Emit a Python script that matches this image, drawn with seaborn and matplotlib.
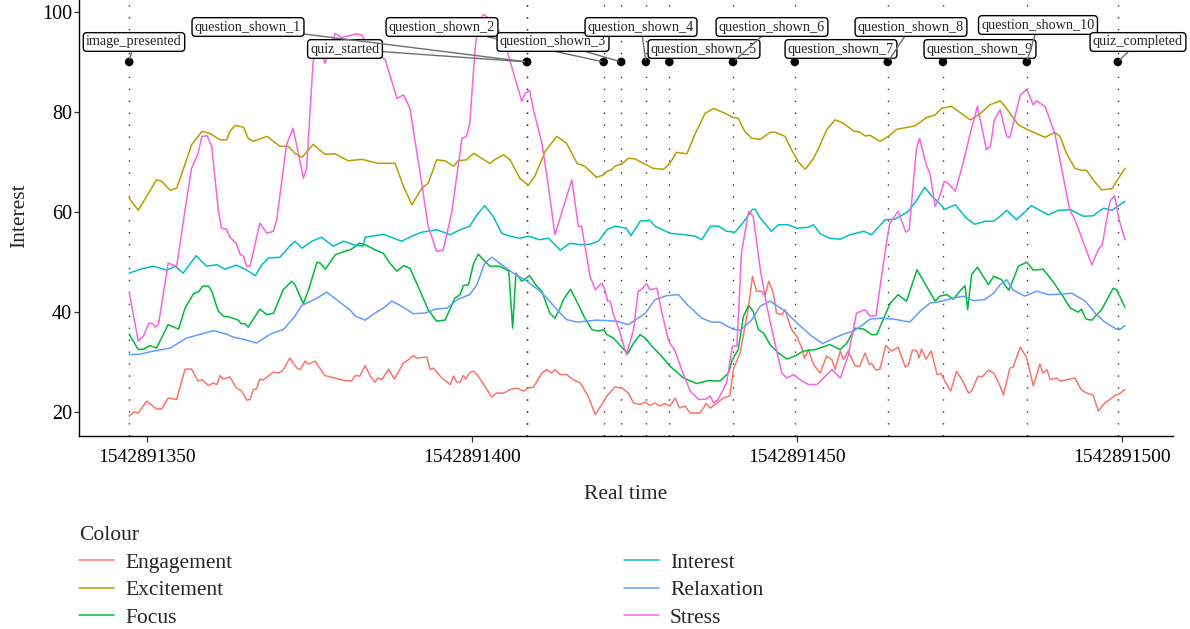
import numpy as np
import pandas as pd
import matplotlib
matplotlib.use("Agg")
import matplotlib.pyplot as plt
import seaborn as sns

BASE = 1542891000

# ---------------- data (time offsets from BASE, values) ----------------
eng_t = [347.3,348.0,348.7,350.0,351.5,352.3,353.3,354.6,355.9,356.9,357.9,358.5,359.5,360.2,360.8,361.3,361.8,362.8,363.8,364.6,365.4,365.9,366.4,366.9,367.4,367.9,369.5,370.3,371.0,372.0,373.1,
         373.6,374.4,374.9,375.9,377.4,380.5,381.5,382.1,382.8,383.6,384.4,385.1,385.6,386.2,387.2,388.1,389.5,390.3,391.0,391.5,393.1,393.6,394.1,395.4,396.7,397.2,397.7,398.2,398.7,399.1,399.7,
         400.3,401.0,402.0,403.1,403.8,404.9,405.9,406.9,408.0,408.7,409.5,410.8,411.5,412.3,412.8,413.6,414.6,415.6,416.7,417.9,419.0,420.0,420.8,422.0,423.1,424.1,424.9,425.9,
         426.7,427.4,428.2,429.0,429.7,430.5,431.3,432.0,432.8,433.6,435.1,436.1,436.7,437.7,438.7,439.7,440.3,441.3,442.6,443.2,443.8,444.6,445.1,445.7,446.4,446.9,447.7,448.2,449.2,450.0,450.8,451.2,451.8,452.6,453.6,
         454.6,455.4,455.9,456.7,457.2,457.9,459.0,459.7,460.5,461.2,461.5,462.2,462.8,463.7,464.6,465.6,466.7,467.2,467.8,468.5,468.8,469.2,469.9,470.7,471.6,472.2,472.8,473.7,474.6,475.4,475.7,476.4,476.9,477.9,478.5,479.5,480.3,
         481.3,481.8,482.8,483.3,484.4,485.4,486.4,487.4,487.9,488.5,489.0,490.0,490.5,492.8,493.8,494.6,495.6,496.4,497.4,498.5,499.0,499.6,500.5]
eng_v = [19.1,19.9,19.7,22.1,20.5,20.5,22.7,22.4,28.5,28.5,26.1,26.4,25.2,25.7,25.4,27.2,26.5,26.9,24.7,24.1,22.3,22.4,24.4,24.5,26.5,26.3,27.9,27.7,28.3,30.7,28.7,
         28.4,30.1,29.5,30.1,27.2,26.2,26.1,27.2,27.1,29.2,27.1,25.9,26.7,26.4,28.5,26.5,29.7,30.4,31.2,30.7,30.9,28.4,28.7,26.7,25.4,27.1,25.9,25.9,27.2,26.5,27.8,
         28.1,27.1,25.1,22.9,23.7,23.7,24.4,24.7,24.1,24.7,24.9,27.7,28.4,27.7,28.4,27.4,27.4,26.4,25.7,23.1,19.4,21.4,23.1,24.9,24.7,23.7,21.7,21.4,
         21.9,21.2,21.7,21.1,21.6,21.1,22.7,20.7,21.1,19.7,19.7,21.6,20.7,21.7,22.7,23.1,28.7,31.7,41.1,47.1,44.1,44.1,43.1,46.1,43.7,39.7,39.4,40.4,36.4,35.1,32.7,30.7,32.4,29.4,27.7,
         31.1,30.4,28.4,32.1,30.4,32.1,29.1,29.1,31.7,29.4,29.7,28.3,28.5,33.2,32.1,32.9,28.9,29.4,32.3,32.1,30.7,32.5,30.5,32.1,27.4,27.6,26.1,24.1,28.1,26.4,25.7,23.7,24.1,27.1,26.9,28.3,27.7,
         25.1,23.3,28.7,28.9,32.9,30.7,25.1,29.5,27.7,28.4,26.4,26.7,26.1,26.7,24.3,23.7,23.3,20.1,21.7,22.7,23.3,23.5,24.4]

exc_t = [347.3,348.7,350.0,351.5,352.3,353.6,354.6,355.6,356.9,358.5,359.7,361.3,362.3,362.8,363.6,364.9,365.6,366.4,368.5,370.5,371.8,372.8,373.9,375.6,377.4,379.0,381.0,383.1,385.6,388.2,389.5,390.8,392.3,393.3,394.6,395.9,397.2,397.9,399.2,
         400.3,401.5,402.8,403.6,404.9,405.9,407.4,408.7,409.7,411.3,413.1,414.6,416.2,417.4,419.2,420.3,420.8,421.5,422.0,423.1,424.1,425.1,426.4,427.9,429.5,430.5,431.5,433.1,434.4,435.9,437.2,439.0,440.2,441.0,442.0,443.1,444.4,445.9,446.7,448.2,449.2,450.3,451.3,452.6,
         453.6,454.6,455.9,457.2,458.7,459.7,460.5,461.3,462.8,464.1,465.4,468.2,470.0,471.3,472.3,473.8,475.1,476.7,478.2,479.7,481.3,482.0,482.8,484.1,485.6,488.2,489.7,490.5,491.5,492.8,493.8,494.6,495.6,496.9,498.5,499.5,500.5]
exc_v = [62.7,60.3,63.1,66.4,66.1,64.3,64.7,68.4,73.4,76.1,75.7,74.4,74.4,76.1,77.3,76.9,74.7,74.1,75.1,73.1,73.1,71.7,70.9,73.5,71.5,71.6,70.2,70.5,69.7,69.7,65.1,61.4,64.7,65.7,70.4,70.2,69.1,70.2,70.4,
         71.7,70.7,69.7,70.5,71.4,70.4,66.7,65.3,67.1,72.1,75.1,73.7,69.7,69.1,66.9,67.4,68.1,68.4,69.1,69.6,70.7,70.6,69.7,68.7,68.5,69.7,71.9,71.6,75.7,79.7,80.7,79.7,78.9,78.7,76.1,74.7,74.5,75.9,75.9,75.1,72.4,69.9,68.5,70.7,
         73.4,76.4,78.4,77.7,76.2,75.9,75.2,75.3,74.1,75.1,76.5,77.2,78.9,79.4,80.7,81.1,79.9,78.4,79.6,81.4,82.2,81.2,79.7,77.4,76.4,74.9,75.9,75.1,71.7,68.7,68.3,68.3,66.4,64.4,64.6,66.7,68.7]

foc_t = [347.3,348.7,349.5,350.5,351.5,353.3,354.9,355.9,357.2,358.0,358.6,359.5,360.0,361.0,361.8,362.8,364.1,364.5,365.1,365.6,367.4,368.5,369.5,371.0,372.3,372.8,374.1,374.9,376.2,376.7,377.5,379.0,380.5,381.5,382.7,383.6,385.1,386.4,387.4,388.5,389.5,390.5,392.3,393.3,394.6,395.9,397.4,398.2,398.7,399.5,
         400.3,401.0,401.8,402.8,404.3,405.7,406.3,406.8,407.7,408.9,410.0,410.8,412.0,412.8,413.6,414.1,415.2,416.4,417.4,418.5,419.5,420.3,420.8,421.8,424.0,424.9,425.9,426.7,427.7,429.0,430.5,432.6,434.6,436.4,438.2,439.5,440.1,441.0,441.8,442.6,443.3,444.1,444.9,445.9,447.2,448.5,449.7,451.0,452.8,
         455.1,456.7,457.7,459.0,460.3,461.5,462.3,463.3,464.4,465.6,466.9,468.5,469.7,471.3,472.0,473.1,474.1,475.1,475.9,476.3,476.9,477.8,479.5,480.3,481.5,482.6,483.3,484.1,485.4,486.4,487.9,489.5,490.8,492.1,493.3,493.8,494.5,495.4,496.9,498.7,499.2,500.5]
foc_v = [35.5,32.4,32.5,33.2,32.7,37.4,36.5,40.7,43.6,44.0,45.1,45.1,44.1,40.1,39.1,38.9,38.3,37.6,37.6,36.9,40.5,39.4,39.7,44.4,46.1,45.4,41.6,44.4,49.9,49.7,48.5,51.4,52.1,52.5,53.7,53.4,52.4,51.7,49.7,48.1,49.2,48.7,43.4,40.4,38.1,38.3,42.7,43.4,45.2,45.4,
         49.7,51.5,50.4,49.1,49.1,48.1,36.7,47.7,46.1,47.2,45.1,44.1,39.7,38.7,40.7,42.4,44.5,41.4,38.7,36.4,36.1,36.4,35.4,34.7,31.6,33.7,35.4,34.7,33.1,31.4,29.1,26.7,25.6,26.2,26.1,27.7,30.4,32.4,39.1,41.2,40.1,36.4,35.7,33.4,31.7,30.5,31.1,32.1,32.4,
         33.4,32.4,33.7,36.7,36.5,35.4,35.4,38.4,41.7,43.4,42.1,48.4,45.7,42.1,43.1,43.4,42.5,44.1,45.2,40.4,47.4,48.9,45.4,47.1,46.4,44.3,46.4,49.1,49.9,48.3,48.5,45.9,43.4,40.7,39.9,40.5,38.5,38.3,40.4,44.7,44.4,40.9]

int_t = [347.3,349.0,351.0,353.1,354.4,355.6,357.6,359.2,360.8,362.0,363.8,365.4,366.7,367.7,368.7,370.5,372.0,372.8,373.9,375.4,376.9,378.7,380.3,381.8,383.3,383.6,384.6,386.4,388.0,389.2,390.8,392.3,394.6,396.7,398.2,399.7,
         400.8,402.0,403.3,404.6,405.9,407.4,408.7,410.5,411.8,413.6,415.1,416.7,418.2,419.5,420.8,422.0,423.8,424.5,425.9,427.4,428.2,430.5,432.8,434.4,435.4,436.7,438.0,439.2,440.5,441.8,443.2,443.6,444.4,446.1,447.2,448.7,450.0,451.8,452.6,453.6,
         455.1,456.7,458.2,460.3,461.5,463.6,465.1,467.2,468.5,469.7,470.8,471.8,472.8,474.4,476.1,477.4,479.0,480.3,481.3,482.3,483.8,486.1,488.7,490.3,492.1,494.1,495.6,497.2,498.5,500.5]
int_v = [47.7,48.5,49.1,48.3,49.1,47.7,51.2,49.1,49.4,48.5,49.3,48.3,47.2,49.4,50.7,50.9,53.1,54.1,52.7,54.1,54.9,53.1,54.1,53.4,53.1,54.9,55.1,55.5,54.7,54.1,55.1,55.9,56.4,55.4,56.4,57.1,
         59.4,61.2,59.1,55.7,55.1,54.7,55.1,54.4,54.7,52.3,53.7,53.4,53.5,54.1,56.4,57.1,56.7,55.2,58.1,58.3,57.1,55.7,55.4,55.1,54.4,57.1,57.1,56.1,55.9,57.9,60.5,60.5,58.7,56.1,57.4,57.4,56.7,56.9,57.4,55.6,
         54.7,54.5,55.4,56.1,55.4,58.4,58.5,60.1,62.4,64.9,63.1,61.9,60.5,61.4,58.7,57.5,58.1,58.1,59.1,60.3,58.4,61.2,59.4,60.3,60.4,59.1,59.2,60.7,60.3,62.1]

rel_t = [347.3,349.0,351.0,353.6,356.1,360.3,362.3,363.3,365.1,366.9,369.0,371.0,372.8,373.8,375.9,377.7,379.5,381.3,382.1,383.6,385.1,386.4,387.7,389.2,391.0,392.8,394.4,396.2,397.9,399.7,
         400.8,402.0,403.1,404.3,406.4,408.5,410.5,411.8,413.1,414.6,416.2,419.2,422.3,424.1,425.6,426.7,428.2,430.0,431.8,433.3,435.4,436.9,438.2,440.2,441.3,443.1,444.4,445.9,448.2,450.3,452.3,454.0,
         455.4,457.2,458.7,460.0,461.3,463.1,465.4,467.4,469.0,470.5,472.3,474.1,475.6,477.2,478.9,480.3,481.3,482.3,483.3,485.1,486.9,488.7,490.8,492.3,494.4,495.9,497.4,499.2,499.7,500.5]
rel_v = [31.4,31.5,32.1,32.7,34.7,36.2,35.5,34.9,34.4,33.7,35.5,36.4,39.1,41.2,42.5,43.9,42.1,40.3,39.1,38.3,39.7,40.7,42.1,41.1,39.6,39.7,40.5,40.7,42.5,43.4,
         45.4,49.7,50.9,49.7,47.7,46.1,44.1,42.4,40.4,38.4,37.9,38.3,38.1,37.4,38.7,39.7,42.4,43.2,43.4,41.2,38.7,37.9,37.9,36.5,36.2,38.4,41.1,42.1,40.1,37.4,35.1,33.6,
         34.5,35.5,36.1,37.2,38.5,38.7,38.4,37.9,40.1,41.7,42.1,42.7,43.1,42.2,42.4,43.7,45.4,46.4,44.3,43.1,44.1,43.4,43.5,43.7,42.1,39.7,37.9,36.5,36.4,37.2]

str_t = [347.3,348.7,349.5,350.3,350.8,351.3,351.8,353.3,354.6,355.9,356.9,357.9,358.5,359.3,360.0,361.0,361.5,362.3,362.8,363.8,364.4,364.9,365.4,365.9,367.4,368.5,369.5,370.0,371.5,372.5,373.1,374.1,374.6,375.6,376.4,376.9,377.4,377.9,379.0,380.0,381.0,382.1,383.1,383.8,386.7,388.5,389.5,390.5,392.3,393.3,394.6,395.6,396.9,397.7,398.5,399.2,399.7,
         400.5,401.0,401.8,403.0,404.3,405.4,407.7,408.2,408.9,409.5,410.8,411.8,412.8,415.4,416.4,416.9,418.2,419.0,420.0,420.5,420.9,421.3,421.8,422.6,423.8,424.9,425.6,426.1,426.9,427.4,428.5,429.2,430.3,431.3,432.3,433.6,434.9,436.1,436.7,437.2,437.9,439.2,440.1,440.8,441.5,442.6,443.3,444.4,445.4,446.4,447.7,448.5,449.5,450.5,451.8,453.1,
         455.4,456.7,457.9,459.2,460.5,461.3,462.2,463.3,464.3,465.6,466.8,467.3,468.4,468.9,470.0,470.5,471.3,472.0,472.7,473.3,474.4,475.6,476.7,477.8,479.2,479.8,480.4,481.3,482.3,482.8,484.4,485.4,486.4,486.9,488.2,489.7,490.8,492.0,492.8,495.4,496.4,497.0,498.2,498.9,499.6,500.5]
str_v = [43.9,34.1,35.1,37.6,37.7,36.9,37.4,49.7,49.1,60.4,68.7,71.7,75.1,75.2,73.1,60.4,56.7,56.5,54.9,53.6,51.4,51.1,49.1,49.1,57.7,55.7,56.1,58.4,73.4,76.7,73.1,66.7,68.7,90.1,93.1,92.4,89.7,91.4,95.7,94.9,95.2,95.6,95.4,93.7,90.4,82.7,83.4,80.7,65.7,57.1,52.1,52.3,59.7,67.1,74.7,75.1,77.7,
         92.4,97.5,99.5,98.5,96.0,92.4,82.1,83.7,84.3,80.4,73.7,65.1,55.4,66.4,57.1,57.1,47.1,44.4,45.7,44.4,42.1,42.1,39.4,36.7,31.4,36.4,44.1,44.4,45.6,44.4,44.7,40.1,34.1,32.1,28.4,24.1,22.4,22.5,23.1,21.7,22.4,25.7,33.1,33.1,51.7,60.1,59.1,48.4,41.1,35.1,27.7,26.7,27.4,26.4,25.4,25.4,
         28.4,26.7,31.1,39.7,40.4,39.1,39.2,49.4,57.7,60.1,55.9,56.4,72.4,74.7,69.1,67.7,61.1,63.1,66.1,65.7,64.1,69.7,75.7,81.1,72.4,73.1,78.4,80.4,75.1,74.9,83.4,84.5,81.4,82.2,81.1,75.7,68.4,60.4,58.4,49.4,52.4,53.4,62.1,63.2,58.4,54.4]

series_names = ["Engagement", "Excitement", "Focus", "Interest", "Relaxation", "Stress"]
series_t = [eng_t, exc_t, foc_t, int_t, rel_t, str_t]
series_v = [eng_v, exc_v, foc_v, int_v, rel_v, str_v]

event_labels = ["image_presented", "quiz_started", "question_shown_1", "question_shown_2",
                "question_shown_3", "question_shown_4", "question_shown_5", "question_shown_6",
                "question_shown_7", "question_shown_8", "question_shown_9", "question_shown_10",
                "quiz_completed"]
event_t = [347.3, 408.5, 408.5, 420.3, 423.0, 426.8, 430.4, 440.2, 449.7, 464.0, 472.5, 485.4, 499.4]
event_v = [90] * len(event_t)

x_ticks = [1542891350, 1542891400, 1542891450, 1542891500]

# label box placement (layout, pixel positions of box centres in the figure)
label_px = [(134, 42), (345, 49), (248, 27), (442, 27), (553, 42), (641, 27), (704, 49),
            (772, 27), (841, 49), (911, 27), (980, 49), (1038, 25), (1138, 42)]
label_segment = [True, True, True, True, True, True, False, True, False, True, False, True, True]

# ---------------- build data frame ----------------
rows = []
for name, ts, vs in zip(series_names, series_t, series_v):
    for t, v in zip(ts, vs):
        rows.append((BASE + t, v, name))
df = pd.DataFrame(rows, columns=["time", "value", "Colour"])
ev = pd.DataFrame({"time": [BASE + t for t in event_t], "value": event_v, "label": event_labels})

palette = dict(zip(series_names, ["#F8766D", "#B79F00", "#00BA38", "#00BFC4", "#619CFF", "#F564E3"]))

sns.set_style("ticks")
plt.rcParams["font.family"] = ["Liberation Serif", "DejaVu Serif"]

W, H = 1190, 629
fig = plt.figure(figsize=(W / 100, H / 100), dpi=100)
ax_l, ax_r, ax_b, ax_t = 79, 1173, 436, -5.5
ax = fig.add_axes([ax_l / W, (H - ax_b) / H, (ax_r - ax_l) / W, (ax_b - ax_t) / H])

xlim = (1542891339.58, 1542891507.89)
ylim = (15.1, 103.5)
ax.set_xlim(*xlim)
ax.set_ylim(*ylim)

for t in ev["time"]:
    ax.axvline(t, color="#333333", lw=1.0, linestyle=(0, (1, 7.6)), zorder=1)

sns.lineplot(data=df, x="time", y="value", hue="Colour", hue_order=series_names,
             palette=palette, estimator=None, lw=1.1, ax=ax, zorder=2)

sns.scatterplot(data=ev, x="time", y="value", color="black", s=38, edgecolor="none",
                ax=ax, zorder=4, legend=False)

def px_to_data(px, py):
    x = xlim[0] + (px - ax_l) / (ax_r - ax_l) * (xlim[1] - xlim[0])
    y = ylim[0] + (ax_b - py) / (ax_b - ax_t) * (ylim[1] - ylim[0])
    return x, y

for (lab, t, v, (px, py), seg) in zip(ev["label"], ev["time"], ev["value"], label_px, label_segment):
    xt, yt = px_to_data(px, py)
    ap = dict(arrowstyle="-", color="#6e6e6e", lw=1.0, shrinkA=0, shrinkB=2) if seg else None
    ax.annotate(lab, xy=(t, v), xytext=(xt, yt), textcoords="data", ha="center", va="center",
                fontsize=10.2, zorder=6,
                bbox=dict(boxstyle="round,pad=0.2,rounding_size=0.25", fc="white", ec="black", lw=1.0),
                arrowprops=ap)

ax.set_xticks(x_ticks)
ax.set_xticklabels([str(x) for x in x_ticks])
ax.set_yticks([20, 40, 60, 80, 100])
ax.tick_params(axis="x", labelsize=14, length=4, width=0.9, color="#333333", pad=5, labelcolor="black")
ax.tick_params(axis="y", labelsize=14.5, length=3.5, width=0.9, color="#333333", pad=1.5, labelcolor="black")
for side in ["top", "right"]:
    ax.spines[side].set_visible(False)
for side in ["left", "bottom"]:
    ax.spines[side].set_linewidth(1.0)
    ax.spines[side].set_color("black")
ax.set_xlabel("Real time", fontsize=15.5, labelpad=14)
ax.set_ylabel("Interest", fontsize=15.5, labelpad=9)

handles, labels = ax.get_legend_handles_labels()
ax.get_legend().remove()
for h in handles:
    h.set_linewidth(1.1)
leg = fig.legend(handles, labels, ncol=2, loc="upper left", bbox_to_anchor=(79 / W, 1 - 526 / H),
                 frameon=False, title="Colour", alignment="left", fontsize=15.5, title_fontsize=15.5,
                 handlelength=1.64, handletextpad=0.5, columnspacing=18.2, labelspacing=0.35,
                 borderpad=0, borderaxespad=0)

fig.savefig("out.png", dpi=100)
